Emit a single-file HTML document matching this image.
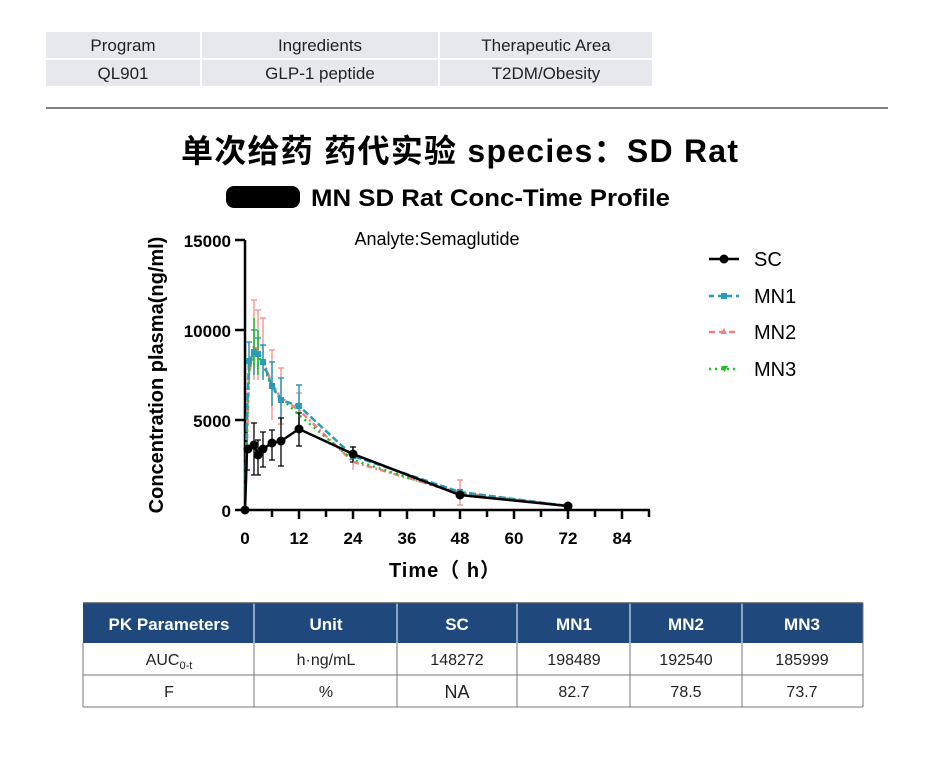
<!DOCTYPE html>
<html><head><meta charset="utf-8"><style>
body{margin:0;background:#fff;width:933px;height:762px;overflow:hidden}
svg text{font-family:"Liberation Sans","Noto Sans CJK SC",sans-serif}
</style></head><body>
<svg width="933" height="762" xmlns="http://www.w3.org/2000/svg">
<g fill="#e7e8ee">
<rect x="46" y="32" width="154" height="26"/><rect x="202" y="32" width="236" height="26"/><rect x="440" y="32" width="212" height="26"/>
<rect x="46" y="60" width="154" height="26"/><rect x="202" y="60" width="236" height="26"/><rect x="440" y="60" width="212" height="26"/>
</g>
<g font-size="17" fill="#222" text-anchor="middle">
<text x="123" y="51">Program</text><text x="320" y="51">Ingredients</text><text x="546" y="51">Therapeutic Area</text>
<text x="123" y="79">QL901</text><text x="320" y="79">GLP-1 peptide</text><text x="546" y="79">T2DM/Obesity</text>
</g>
<line x1="46" y1="108" x2="888" y2="108" stroke="#333" stroke-width="1.3"/>
<text x="181" y="162" font-size="32" font-weight="600" fill="#000" textLength="557" lengthAdjust="spacing">单次给药  药代实验 species：SD Rat</text>
<rect x="226" y="186" width="74" height="22" rx="8" fill="#000"/>
<text x="311" y="206" font-size="24" font-weight="bold" fill="#000" textLength="359" lengthAdjust="spacingAndGlyphs">MN SD Rat Conc-Time Profile</text>
<text x="437" y="245" text-anchor="middle" font-size="18" fill="#000">Analyte:Semaglutide</text>
<g stroke="#000" stroke-width="2.5" fill="none">
<line x1="245" y1="240" x2="245" y2="511"/><line x1="244" y1="510" x2="650" y2="510"/>
<line x1="235" y1="240" x2="245" y2="240"/><line x1="235" y1="330" x2="245" y2="330"/><line x1="235" y1="420" x2="245" y2="420"/><line x1="235" y1="510" x2="245" y2="510"/>
<path d="M272 510v7M299 510v9M326 510v7M353 510v9M380 510v7M407 510v9M434 510v7M460 510v9M487 510v7M514 510v9M541 510v7M568 510v9M595 510v7M622 510v9M649 510v7"/>
</g>
<g font-size="17" font-weight="bold" text-anchor="end">
<text x="231" y="247">15000</text><text x="231" y="337">10000</text><text x="231" y="427">5000</text><text x="231" y="517">0</text>
</g>
<g font-size="17" font-weight="bold" text-anchor="middle">
<text x="245" y="544">0</text><text x="299" y="544">12</text><text x="353" y="544">24</text><text x="407" y="544">36</text><text x="460" y="544">48</text><text x="514" y="544">60</text><text x="568" y="544">72</text><text x="622" y="544">84</text>
</g>
<text x="445" y="577" text-anchor="middle" font-size="20" font-weight="bold" letter-spacing="1">Time（ h）</text>
<text transform="translate(163,375) rotate(-90)" text-anchor="middle" font-size="20" font-weight="bold">Concentration plasma(ng/ml)</text>
<g stroke="#f59a9a" stroke-width="1.5" fill="none">
<path d="M254 300v80M258 310v70M263 318v60M272 350v70M281 368v56M299 393v40M353 452v18M460 480v25"/>
<path d="M251 300h6M255 310h6M260 318h6M269 350h6M278 368h6M278 424h6M296 393h6M457 480h6M457 505h6"/>
</g>
<g stroke="#2a9cba" stroke-width="1.5" fill="none">
<path d="M249 342v40M254 330v45M258 338v35M263 345v35M272 362v44M281 378v44M299 385v42M353 446v14"/>
<path d="M246 342h6M251 330h6M255 338h6M260 345h6M269 362h6M278 378h6M296 385h6"/>
</g>
<g stroke="#22c022" stroke-width="1.5" fill="none">
<path d="M254 318v50M258 330v45"/>
</g>
<g stroke="#000" stroke-width="1.3" fill="none">
<path d="M247 428v42M254 423v52M258 440v35M263 432v35M272 430v30M281 418v48M299 413v33M353 447v15M460 490v8"/>
<path d="M244 470h6M251 423h6M251 475h6M255 440h6M255 475h6M260 432h6M260 467h6M269 430h6M269 460h6M278 418h6M278 466h6M296 413h6M296 446h6M350 447h6M350 462h6"/>
</g>
<polyline points="245,510 247,440 249,375 254,345 258,352 263,360 272,384 281,398 299,410 353,462 460,493 568,506" fill="none" stroke="#f08080" stroke-width="2.5" stroke-dasharray="6,3,2,3"/>
<polyline points="245,510 247,430 249,372 254,348 258,356 263,364 272,388 281,398 299,415 353,460 460,494 568,506" fill="none" stroke="#22c022" stroke-width="2.5" stroke-dasharray="2,4"/>
<polyline points="245,510 247,415 249,362 254,352 258,354 263,362 272,386 281,400 299,406 353,456 460,492 568,506" fill="none" stroke="#2a9cba" stroke-width="2.5" stroke-dasharray="7,3"/>
<g fill="#2a9cba"><rect x="246" y="358" width="6" height="6"/><rect x="251" y="349" width="6" height="6"/><rect x="255" y="351" width="6" height="6"/><rect x="260" y="359" width="6" height="6"/><rect x="269" y="383" width="6" height="6"/><rect x="278" y="397" width="6" height="6"/><rect x="296" y="403" width="6" height="6"/><rect x="350" y="453" width="6" height="6"/><rect x="457" y="489" width="6" height="6"/></g>
<polyline points="245,510 247,449 254,445 258,455 263,449 272,443 281,441 299,429 353,454 460,495 568,506" fill="none" stroke="#000" stroke-width="2.5"/>
<g fill="#000"><circle cx="245" cy="510" r="4.5"/><circle cx="248" cy="449" r="4.5"/><circle cx="254" cy="445" r="4.5"/><circle cx="258" cy="455" r="4.5"/><circle cx="263" cy="449" r="4.5"/><circle cx="272" cy="443" r="4.5"/><circle cx="281" cy="441" r="4.5"/><circle cx="299" cy="429" r="4.5"/><circle cx="353" cy="454" r="4.5"/><circle cx="460" cy="495" r="4.5"/><circle cx="568" cy="506" r="4.5"/></g>
<line x1="709" y1="259" x2="739" y2="259" stroke="#000" stroke-width="2.5"/><circle cx="724" cy="259" r="4.5"/>
<line x1="709" y1="296" x2="739" y2="296" stroke="#2a9cba" stroke-width="2.5" stroke-dasharray="5,4"/><rect x="721" y="293" width="6" height="6" fill="#2a9cba"/>
<line x1="709" y1="332" x2="739" y2="332" stroke="#f08080" stroke-width="2.5" stroke-dasharray="6,4"/><path d="M724 328l3 6h-6z" fill="#f08080"/>
<line x1="709" y1="369" x2="739" y2="369" stroke="#22c022" stroke-width="2.5" stroke-dasharray="2,4"/><path d="M721 366h7l-3.5 6z" fill="#22c022"/>
<g font-size="20"><text x="754" y="266">SC</text><text x="754" y="303">MN1</text><text x="754" y="339">MN2</text><text x="754" y="376">MN3</text></g>
<rect x="83" y="603" width="780" height="40" fill="#1f497d"/>
<g stroke="#fff" stroke-width="1"><path d="M254 603v40M397 603v40M517 603v40M630 603v40M742 603v40"/></g>
<g stroke="#777" stroke-width="1" fill="none"><path d="M83 675h780M83 707h780M83 643v64M254 643v64M397 643v64M517 643v64M630 643v64M742 643v64M863 603v104"/></g>
<line x1="83" y1="603" x2="863" y2="603" stroke="#555" stroke-width="1.5"/>
<g font-size="17" font-weight="bold" fill="#fff" text-anchor="middle">
<text x="169" y="630">PK Parameters</text><text x="326" y="630">Unit</text><text x="457" y="630">SC</text><text x="574" y="630">MN1</text><text x="686" y="630">MN2</text><text x="802" y="630">MN3</text>
</g>
<g font-size="16" fill="#222" text-anchor="middle">
<text x="169" y="665">AUC<tspan font-size="11" dy="4">0-t</tspan></text><text x="326" y="665">h·ng/mL</text><text x="457" y="665">148272</text><text x="574" y="665">198489</text><text x="686" y="665">192540</text><text x="802" y="665">185999</text>
<text x="169" y="697">F</text><text x="326" y="697">%</text><text x="457" y="698" font-size="18">NA</text><text x="574" y="697">82.7</text><text x="686" y="697">78.5</text><text x="802" y="697">73.7</text>
</g>
</svg>
</body></html>
